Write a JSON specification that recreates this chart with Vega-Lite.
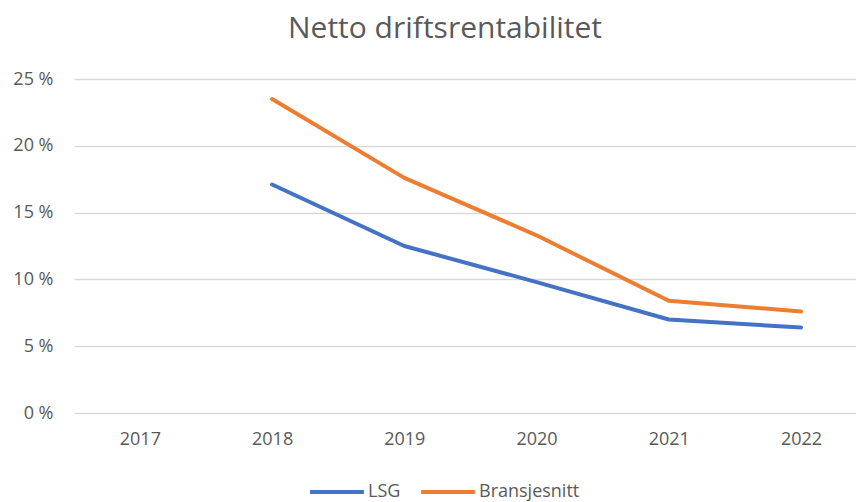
{
  "$schema": "https://vega.github.io/schema/vega-lite/v6.json",
  "width": 782,
  "height": 334,
  "autosize": {"type": "none"},
  "padding": {"left": 74, "top": 79, "right": 0, "bottom": 89},
  "background": "white",
  "view": {"stroke": null},
  "title": {
    "text": "Netto driftsrentabilitet",
    "anchor": "middle",
    "frame": "group",
    "dx": -20,
    "offset": 26,
    "font": "Open Sans",
    "fontSize": 30,
    "fontWeight": "normal",
    "color": "#595959"
  },
  "data": {
    "values": [
      {"year": "2017", "series": "LSG", "value": null},
      {"year": "2018", "series": "LSG", "value": 17.1},
      {"year": "2019", "series": "LSG", "value": 12.5},
      {"year": "2020", "series": "LSG", "value": 9.8},
      {"year": "2021", "series": "LSG", "value": 7.0},
      {"year": "2022", "series": "LSG", "value": 6.4},
      {"year": "2017", "series": "Bransjesnitt", "value": null},
      {"year": "2018", "series": "Bransjesnitt", "value": 23.5},
      {"year": "2019", "series": "Bransjesnitt", "value": 17.6},
      {"year": "2020", "series": "Bransjesnitt", "value": 13.3},
      {"year": "2021", "series": "Bransjesnitt", "value": 8.4},
      {"year": "2022", "series": "Bransjesnitt", "value": 7.6}
    ]
  },
  "mark": {"type": "line", "strokeWidth": 4, "strokeCap": "round", "strokeJoin": "round"},
  "encoding": {
    "x": {
      "field": "year",
      "type": "ordinal",
      "scale": {"type": "point", "padding": 0.457, "align": 0.545},
      "axis": {
        "title": null,
        "labelAngle": 0,
        "domain": false,
        "ticks": false,
        "grid": false,
        "labelPadding": 17,
        "labelFont": "Open Sans",
        "labelFontSize": 18,
        "labelColor": "#595959"
      }
    },
    "y": {
      "field": "value",
      "type": "quantitative",
      "scale": {"domain": [0, 25], "nice": false},
      "axis": {
        "title": null,
        "values": [0, 5, 10, 15, 20, 25],
        "labelExpr": "datum.value + ' %'",
        "domain": false,
        "ticks": false,
        "grid": true,
        "gridColor": "#d9d9d9",
        "gridWidth": 1.5,
        "labelPadding": 21,
        "labelFont": "Open Sans",
        "labelFontSize": 18,
        "labelColor": "#595959"
      }
    },
    "color": {
      "field": "series",
      "type": "nominal",
      "scale": {"domain": ["LSG", "Bransjesnitt"], "range": ["#4472C4", "#ED7D31"]},
      "legend": {
        "title": null,
        "orient": "none",
        "direction": "horizontal",
        "legendX": 234,
        "legendY": 384,
        "symbolType": "stroke",
        "symbolSize": 2900,
        "symbolStrokeWidth": 4,
        "labelOffset": 2,
        "columnPadding": 12,
        "labelFont": "Open Sans",
        "labelFontSize": 18,
        "labelColor": "#595959"
      }
    }
  }
}
